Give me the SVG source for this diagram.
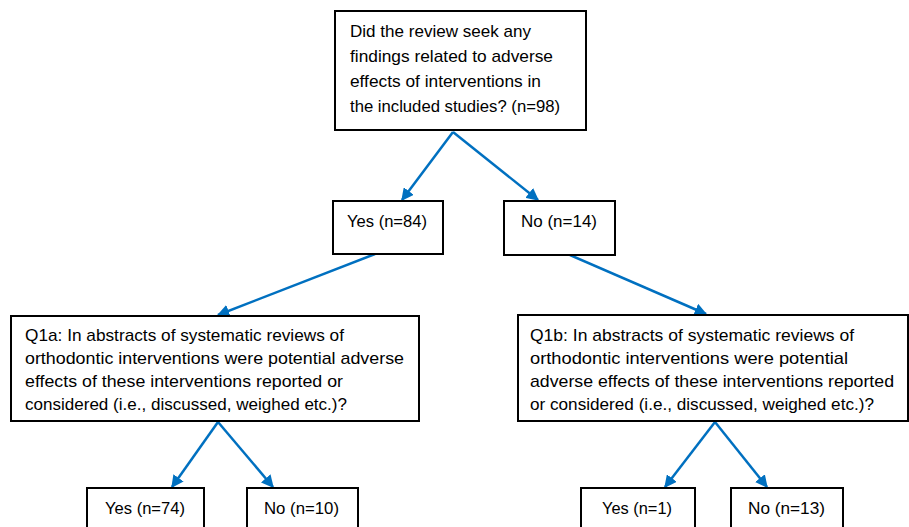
<svg xmlns="http://www.w3.org/2000/svg" width="909" height="527" viewBox="0 0 909 527">
<style>
.box{fill:#fff;stroke:#000;stroke-width:2}
.t{font-family:"Liberation Sans",Arial,sans-serif;font-size:17px;fill:#000}
.conn{stroke:#0070C0;stroke-width:2.5;fill:none;marker-end:url(#ah)}
</style>
<defs>
<marker id="ah" viewBox="0 0 10 10" refX="9" refY="5" markerWidth="5" markerHeight="5" orient="auto" markerUnits="strokeWidth">
<path d="M0,0 L10,5 L0,10 z" fill="#0070C0"/>
</marker>
</defs>
<rect width="909" height="527" fill="#fff"/>
<g id="connectors">
<line class="conn" x1="453" y1="132" x2="402" y2="200"/>
<line class="conn" x1="453" y1="132" x2="538" y2="200"/>
<line class="conn" x1="375" y1="254" x2="218" y2="315"/>
<line class="conn" x1="570" y1="255" x2="706" y2="314"/>
<line class="conn" x1="218" y1="422" x2="172" y2="487"/>
<line class="conn" x1="218" y1="422" x2="273" y2="487"/>
<line class="conn" x1="715" y1="422" x2="665" y2="487"/>
<line class="conn" x1="715" y1="422" x2="767" y2="487"/>
</g>
<g id="root">
<rect class="box" x="335" y="11" width="251" height="119"/>
<text class="t" x="350" y="37" textLength="181" lengthAdjust="spacingAndGlyphs">Did the review seek any</text>
<text class="t" x="350" y="62" textLength="203" lengthAdjust="spacingAndGlyphs">findings related to adverse</text>
<text class="t" x="350" y="87" textLength="191" lengthAdjust="spacingAndGlyphs">effects of interventions in</text>
<text class="t" x="350" y="112" textLength="210" lengthAdjust="spacingAndGlyphs">the included studies? (n=98)</text>
</g>
<g id="yes84">
<rect class="box" x="333" y="201" width="110" height="53"/>
<text class="t" x="347" y="227" textLength="80" lengthAdjust="spacingAndGlyphs">Yes (n=84)</text>
</g>
<g id="no14">
<rect class="box" x="504" y="201" width="111" height="54"/>
<text class="t" x="521" y="227" textLength="76" lengthAdjust="spacingAndGlyphs">No (n=14)</text>
</g>
<g id="q1a">
<rect class="box" x="11" y="316" width="408" height="105"/>
<text class="t" x="25" y="341" textLength="319" lengthAdjust="spacingAndGlyphs">Q1a: In abstracts of systematic reviews of</text>
<text class="t" x="25" y="364" textLength="379" lengthAdjust="spacingAndGlyphs">orthodontic interventions were potential adverse</text>
<text class="t" x="25" y="387" textLength="318" lengthAdjust="spacingAndGlyphs">effects of these interventions reported or</text>
<text class="t" x="25" y="410" textLength="322" lengthAdjust="spacingAndGlyphs">considered (i.e., discussed, weighed etc.)?</text>
</g>
<g id="q1b">
<rect class="box" x="518" y="315" width="390" height="106"/>
<text class="t" x="530" y="341" textLength="324" lengthAdjust="spacingAndGlyphs">Q1b: In abstracts of systematic reviews of</text>
<text class="t" x="530" y="364" textLength="318" lengthAdjust="spacingAndGlyphs">orthodontic interventions were potential</text>
<text class="t" x="530" y="387" textLength="364" lengthAdjust="spacingAndGlyphs">adverse effects of these interventions reported</text>
<text class="t" x="530" y="410" textLength="344" lengthAdjust="spacingAndGlyphs">or considered (i.e., discussed, weighed etc.)?</text>
</g>
<g id="yes74">
<rect class="box" x="87" y="488" width="117" height="50"/>
<text class="t" x="105" y="514" textLength="80" lengthAdjust="spacingAndGlyphs">Yes (n=74)</text>
</g>
<g id="no10">
<rect class="box" x="247" y="488" width="111" height="50"/>
<text class="t" x="264" y="514" textLength="75" lengthAdjust="spacingAndGlyphs">No (n=10)</text>
</g>
<g id="yes1">
<rect class="box" x="581" y="488" width="114" height="50"/>
<text class="t" x="602" y="514" textLength="70" lengthAdjust="spacingAndGlyphs">Yes (n=1)</text>
</g>
<g id="no13">
<rect class="box" x="731" y="488" width="112" height="50"/>
<text class="t" x="748" y="514" textLength="77" lengthAdjust="spacingAndGlyphs">No (n=13)</text>
</g>
</svg>
